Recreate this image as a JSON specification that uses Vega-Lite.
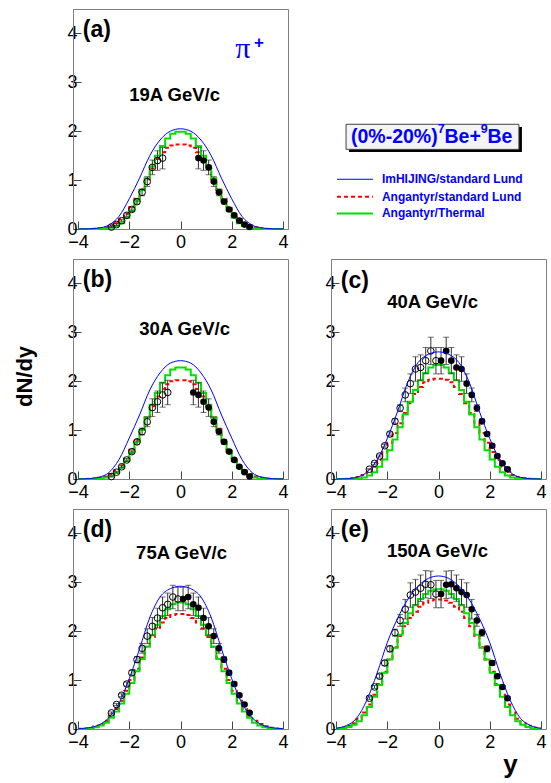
{
"$schema":"https://vega.github.io/schema/vega-lite/v6.json",
"padding":{"left":12,"top":8,"right":4,"bottom":4},
"background":"white",
"datasets":{
"green":[
{"x":-4,"a":0,"b":0,"c":0,"d":0,"e":0.006},
{"x":-3.8,"a":0,"b":0,"c":0,"d":0.006,"e":0.017},
{"x":-3.6,"a":0,"b":0.002,"c":0.002,"d":0.015,"e":0.04},
{"x":-3.4,"a":0.001,"b":0.005,"c":0.005,"d":0.035,"e":0.085},
{"x":-3.2,"a":0.004,"b":0.012,"c":0.013,"d":0.07,"e":0.16},
{"x":-3,"a":0.01,"b":0.03,"c":0.03,"d":0.13,"e":0.28},
{"x":-2.8,"a":0.025,"b":0.065,"c":0.07,"d":0.23,"e":0.45},
{"x":-2.6,"a":0.06,"b":0.13,"c":0.14,"d":0.36,"e":0.66},
{"x":-2.4,"a":0.12,"b":0.23,"c":0.25,"d":0.52,"e":0.9},
{"x":-2.2,"a":0.23,"b":0.37,"c":0.4,"d":0.72,"e":1.15},
{"x":-2,"a":0.38,"b":0.55,"c":0.59,"d":0.94,"e":1.42},
{"x":-1.8,"a":0.57,"b":0.76,"c":0.81,"d":1.18,"e":1.66},
{"x":-1.6,"a":0.8,"b":1,"c":1.06,"d":1.43,"e":1.93},
{"x":-1.4,"a":1.04,"b":1.26,"c":1.32,"d":1.68,"e":2.17},
{"x":-1.2,"a":1.28,"b":1.52,"c":1.58,"d":1.92,"e":2.37},
{"x":-1,"a":1.5,"b":1.76,"c":1.82,"d":2.13,"e":2.53},
{"x":-0.8,"a":1.7,"b":1.97,"c":2.02,"d":2.31,"e":2.66},
{"x":-0.6,"a":1.85,"b":2.12,"c":2.17,"d":2.45,"e":2.76},
{"x":-0.4,"a":1.95,"b":2.24,"c":2.28,"d":2.55,"e":2.83},
{"x":-0.2,"a":1.99,"b":2.28,"c":2.33,"d":2.59,"e":2.86},
{"x":0,"a":1.99,"b":2.28,"c":2.33,"d":2.59,"e":2.86},
{"x":0.2,"a":1.95,"b":2.24,"c":2.28,"d":2.55,"e":2.83},
{"x":0.4,"a":1.85,"b":2.12,"c":2.17,"d":2.45,"e":2.76},
{"x":0.6,"a":1.7,"b":1.97,"c":2.02,"d":2.31,"e":2.66},
{"x":0.8,"a":1.5,"b":1.76,"c":1.82,"d":2.13,"e":2.53},
{"x":1,"a":1.28,"b":1.52,"c":1.58,"d":1.92,"e":2.37},
{"x":1.2,"a":1.04,"b":1.26,"c":1.32,"d":1.68,"e":2.17},
{"x":1.4,"a":0.8,"b":1,"c":1.06,"d":1.43,"e":1.93},
{"x":1.6,"a":0.57,"b":0.76,"c":0.81,"d":1.18,"e":1.66},
{"x":1.8,"a":0.38,"b":0.55,"c":0.59,"d":0.94,"e":1.42},
{"x":2,"a":0.23,"b":0.37,"c":0.4,"d":0.72,"e":1.15},
{"x":2.2,"a":0.12,"b":0.23,"c":0.25,"d":0.52,"e":0.9},
{"x":2.4,"a":0.06,"b":0.13,"c":0.14,"d":0.36,"e":0.66},
{"x":2.6,"a":0.025,"b":0.065,"c":0.07,"d":0.23,"e":0.45},
{"x":2.8,"a":0.01,"b":0.03,"c":0.03,"d":0.13,"e":0.28},
{"x":3,"a":0.004,"b":0.012,"c":0.013,"d":0.07,"e":0.16},
{"x":3.2,"a":0.001,"b":0.005,"c":0.005,"d":0.035,"e":0.085},
{"x":3.4,"a":0,"b":0.002,"c":0.002,"d":0.015,"e":0.04},
{"x":3.6,"a":0,"b":0,"c":0,"d":0.006,"e":0.017},
{"x":3.8,"a":0,"b":0,"c":0,"d":0,"e":0.006},
{"x":4,"a":0,"b":0,"c":0,"d":0,"e":0.006}
],
"red":[
{"x":-4,"a":0,"b":0,"c":0,"d":0.004,"e":0.012},
{"x":-3.8,"a":0,"b":0.001,"c":0.002,"d":0.012,"e":0.03},
{"x":-3.6,"a":0.002,"b":0.004,"c":0.007,"d":0.028,"e":0.065},
{"x":-3.4,"a":0.006,"b":0.01,"c":0.018,"d":0.055,"e":0.12},
{"x":-3.2,"a":0.015,"b":0.025,"c":0.04,"d":0.1,"e":0.21},
{"x":-3,"a":0.035,"b":0.05,"c":0.08,"d":0.17,"e":0.34},
{"x":-2.8,"a":0.07,"b":0.1,"c":0.15,"d":0.27,"e":0.5},
{"x":-2.6,"a":0.12,"b":0.17,"c":0.25,"d":0.41,"e":0.7},
{"x":-2.4,"a":0.2,"b":0.28,"c":0.39,"d":0.58,"e":0.92},
{"x":-2.2,"a":0.31,"b":0.42,"c":0.55,"d":0.78,"e":1.17},
{"x":-2,"a":0.45,"b":0.6,"c":0.74,"d":1,"e":1.42},
{"x":-1.8,"a":0.62,"b":0.8,"c":0.94,"d":1.23,"e":1.67},
{"x":-1.6,"a":0.8,"b":1.02,"c":1.14,"d":1.46,"e":1.9},
{"x":-1.4,"a":1.02,"b":1.26,"c":1.35,"d":1.68,"e":2.1},
{"x":-1.2,"a":1.24,"b":1.49,"c":1.55,"d":1.88,"e":2.27},
{"x":-1,"a":1.43,"b":1.69,"c":1.74,"d":2.05,"e":2.4},
{"x":-0.8,"a":1.57,"b":1.84,"c":1.88,"d":2.18,"e":2.5},
{"x":-0.6,"a":1.66,"b":1.94,"c":1.98,"d":2.27,"e":2.58},
{"x":-0.4,"a":1.71,"b":2,"c":2.03,"d":2.33,"e":2.63},
{"x":-0.2,"a":1.73,"b":2.02,"c":2.05,"d":2.35,"e":2.65},
{"x":0,"a":1.73,"b":2.02,"c":2.05,"d":2.35,"e":2.65},
{"x":0.2,"a":1.71,"b":2,"c":2.03,"d":2.33,"e":2.63},
{"x":0.4,"a":1.66,"b":1.94,"c":1.98,"d":2.27,"e":2.58},
{"x":0.6,"a":1.57,"b":1.84,"c":1.88,"d":2.18,"e":2.5},
{"x":0.8,"a":1.43,"b":1.69,"c":1.74,"d":2.05,"e":2.4},
{"x":1,"a":1.24,"b":1.49,"c":1.55,"d":1.88,"e":2.27},
{"x":1.2,"a":1.02,"b":1.26,"c":1.35,"d":1.68,"e":2.1},
{"x":1.4,"a":0.8,"b":1.02,"c":1.14,"d":1.46,"e":1.9},
{"x":1.6,"a":0.62,"b":0.8,"c":0.94,"d":1.23,"e":1.67},
{"x":1.8,"a":0.45,"b":0.6,"c":0.74,"d":1,"e":1.42},
{"x":2,"a":0.31,"b":0.42,"c":0.55,"d":0.78,"e":1.17},
{"x":2.2,"a":0.2,"b":0.28,"c":0.39,"d":0.58,"e":0.92},
{"x":2.4,"a":0.12,"b":0.17,"c":0.25,"d":0.41,"e":0.7},
{"x":2.6,"a":0.07,"b":0.1,"c":0.15,"d":0.27,"e":0.5},
{"x":2.8,"a":0.035,"b":0.05,"c":0.08,"d":0.17,"e":0.34},
{"x":3,"a":0.015,"b":0.025,"c":0.04,"d":0.1,"e":0.21},
{"x":3.2,"a":0.006,"b":0.01,"c":0.018,"d":0.055,"e":0.12},
{"x":3.4,"a":0.002,"b":0.004,"c":0.007,"d":0.028,"e":0.065},
{"x":3.6,"a":0,"b":0.001,"c":0.002,"d":0.012,"e":0.03},
{"x":3.8,"a":0,"b":0,"c":0,"d":0.004,"e":0.012},
{"x":4,"a":0,"b":0,"c":0,"d":0.004,"e":0.012}
],
"blue":[
{"x":-4,"a":0,"b":0,"c":0,"d":0.005,"e":0.015},
{"x":-3.6,"a":0.004,"b":0.008,"c":0.005,"d":0.025,"e":0.07},
{"x":-3.2,"a":0.02,"b":0.035,"c":0.034,"d":0.08,"e":0.22},
{"x":-2.8,"a":0.08,"b":0.13,"c":0.14,"d":0.23,"e":0.59},
{"x":-2.4,"a":0.26,"b":0.4,"c":0.39,"d":0.53,"e":1.14},
{"x":-2,"a":0.62,"b":0.84,"c":0.83,"d":1.03,"e":1.77},
{"x":-1.6,"a":1.04,"b":1.31,"c":1.38,"d":1.64,"e":2.26},
{"x":-1.2,"a":1.5,"b":1.82,"c":1.98,"d":2.28,"e":2.65},
{"x":-0.8,"a":1.82,"b":2.17,"c":2.38,"d":2.7,"e":2.92},
{"x":-0.4,"a":2,"b":2.37,"c":2.55,"d":2.87,"e":3.08},
{"x":0,"a":2.05,"b":2.42,"c":2.6,"d":2.92,"e":3.13},
{"x":0.4,"a":2,"b":2.37,"c":2.55,"d":2.87,"e":3.08},
{"x":0.8,"a":1.82,"b":2.17,"c":2.38,"d":2.7,"e":2.92},
{"x":1.2,"a":1.5,"b":1.82,"c":1.98,"d":2.28,"e":2.65},
{"x":1.6,"a":1.04,"b":1.31,"c":1.38,"d":1.64,"e":2.26},
{"x":2,"a":0.62,"b":0.84,"c":0.83,"d":1.03,"e":1.77},
{"x":2.4,"a":0.26,"b":0.4,"c":0.39,"d":0.53,"e":1.14},
{"x":2.8,"a":0.08,"b":0.13,"c":0.14,"d":0.23,"e":0.59},
{"x":3.2,"a":0.02,"b":0.035,"c":0.034,"d":0.08,"e":0.22},
{"x":3.6,"a":0.004,"b":0.008,"c":0.005,"d":0.025,"e":0.07},
{"x":4,"a":0,"b":0,"c":0,"d":0.005,"e":0.015}
],
"pts":[
{"x":-2.7,"a":0.04,"ae":0.01,"b":0.05,"be":0.01,"c":0.2,"ce":0.01,"d":0.33,"de":0.02,"e":0.63,"ee":0.03},
{"x":-2.5,"a":0.09,"ae":0.02,"b":0.14,"be":0.02,"c":0.32,"ce":0.02,"d":0.5,"de":0.02,"e":0.86,"ee":0.03},
{"x":-2.3,"a":0.17,"ae":0.02,"b":0.25,"be":0.02,"c":0.47,"ce":0.02,"d":0.69,"de":0.03,"e":1.08,"ee":0.04},
{"x":-2.1,"a":0.28,"ae":0.03,"b":0.39,"be":0.03,"c":0.68,"ce":0.03,"d":0.92,"de":0.04,"e":1.35,"ee":0.05},
{"x":-1.9,"a":0.4,"ae":0.04,"b":0.56,"be":0.04,"c":0.92,"ce":0.04,"d":1.15,"de":0.05,"e":1.64,"ee":0.06},
{"x":-1.7,"a":0.56,"ae":0.05,"b":0.76,"be":0.05,"c":1.18,"ce":0.05,"d":1.42,"de":0.06,"e":1.97,"ee":0.07},
{"x":-1.5,"a":0.75,"ae":0.07,"b":0.97,"be":0.07,"c":1.45,"ce":0.07,"d":1.65,"de":0.1,"e":2.22,"ee":0.12},
{"x":-1.3,"a":0.97,"ae":0.1,"b":1.17,"be":0.1,"c":1.72,"ce":0.14,"d":1.9,"de":0.15,"e":2.45,"ee":0.2},
{"x":-1.1,"a":1.26,"ae":0.15,"b":1.46,"be":0.18,"c":1.95,"ce":0.2,"d":2.1,"de":0.18,"e":2.74,"ee":0.25},
{"x":-0.9,"a":1.4,"ae":0.2,"b":1.58,"be":0.22,"c":2.25,"ce":0.25,"d":2.27,"de":0.2,"e":2.8,"ee":0.26},
{"x":-0.7,"a":1.45,"ae":0.22,"b":1.72,"be":0.25,"c":2.28,"ce":0.26,"d":2.48,"de":0.22,"e":2.88,"ee":0.27},
{"x":-0.5,"a":null,"ae":null,"b":1.77,"be":0.25,"c":2.42,"ce":0.27,"d":2.55,"de":0.23,"e":2.96,"ee":0.28},
{"x":-0.3,"a":null,"ae":null,"b":null,"be":null,"c":2.62,"ce":0.28,"d":2.7,"de":0.24,"e":2.95,"ee":0.28},
{"x":-0.1,"a":null,"ae":null,"b":null,"be":null,"c":2.42,"ce":0.27,"d":2.66,"de":0.24,"e":2.76,"ee":0.28},
{"x":0.1,"a":null,"ae":null,"b":null,"be":null,"c":2.42,"ce":0.27,"d":2.66,"de":0.24,"e":2.76,"ee":0.28},
{"x":0.3,"a":null,"ae":null,"b":null,"be":null,"c":2.62,"ce":0.28,"d":2.7,"de":0.24,"e":2.95,"ee":0.28},
{"x":0.5,"a":null,"ae":null,"b":1.77,"be":0.25,"c":2.42,"ce":0.27,"d":2.55,"de":0.23,"e":2.96,"ee":0.28},
{"x":0.7,"a":1.45,"ae":0.22,"b":1.72,"be":0.25,"c":2.28,"ce":0.26,"d":2.48,"de":0.22,"e":2.88,"ee":0.27},
{"x":0.9,"a":1.4,"ae":0.2,"b":1.58,"be":0.22,"c":2.25,"ce":0.25,"d":2.27,"de":0.2,"e":2.8,"ee":0.26},
{"x":1.1,"a":1.26,"ae":0.15,"b":1.46,"be":0.18,"c":1.95,"ce":0.2,"d":2.1,"de":0.18,"e":2.74,"ee":0.25},
{"x":1.3,"a":0.97,"ae":0.1,"b":1.17,"be":0.1,"c":1.72,"ce":0.14,"d":1.9,"de":0.15,"e":2.45,"ee":0.2},
{"x":1.5,"a":0.75,"ae":0.07,"b":0.97,"be":0.07,"c":1.45,"ce":0.07,"d":1.65,"de":0.1,"e":2.22,"ee":0.12},
{"x":1.7,"a":0.56,"ae":0.05,"b":0.76,"be":0.05,"c":1.18,"ce":0.05,"d":1.42,"de":0.06,"e":1.97,"ee":0.07},
{"x":1.9,"a":0.4,"ae":0.04,"b":0.56,"be":0.04,"c":0.92,"ce":0.04,"d":1.15,"de":0.05,"e":1.64,"ee":0.06},
{"x":2.1,"a":0.28,"ae":0.03,"b":0.39,"be":0.03,"c":0.68,"ce":0.03,"d":0.92,"de":0.04,"e":1.35,"ee":0.05},
{"x":2.3,"a":0.17,"ae":0.02,"b":0.25,"be":0.02,"c":0.47,"ce":0.02,"d":0.69,"de":0.03,"e":1.08,"ee":0.04},
{"x":2.5,"a":0.09,"ae":0.02,"b":0.14,"be":0.02,"c":0.32,"ce":0.02,"d":0.5,"de":0.02,"e":0.86,"ee":0.03},
{"x":2.7,"a":0.04,"ae":0.01,"b":0.05,"be":0.01,"c":0.2,"ce":0.01,"d":0.33,"de":0.02,"e":0.63,"ee":0.03}
]
},
"columns":2,
"spacing":{"row":30,"column":43},
"bounds":"flush",
"concat":[
{"width":215,"height":220,
"layer":[
{"encoding":{
"x":{"field":"x","type":"quantitative","scale":{"domain":[-4.2,4.2],"nice":false,"zero":false},"axis":{"values":[-4,-3.5,-3,-2.5,-2,-1.5,-1,-0.5,0,0.5,1,1.5,2,2.5,3,3.5,4],"format":".0f","labelExpr":"datum.value % 2 === 0 ? datum.label : ''","labelOverlap":false,"tickSize":{"condition":{"test":"datum.value % 2 === 0","value":-8},"value":-5},"labelPadding":12,"title":null}},
"y":{"field":"a","type":"quantitative","scale":{"domain":[0,4.5],"nice":false,"zero":false},"axis":{"values":[0,1,2,3,4],"format":".0f","labelOverlap":false,"tickSize":-8,"labelPadding":4,"title":null}}},
"layer":[
{"data":{"name":"red"},"mark":{"type":"line","interpolate":"step-after","color":"#ff0000","strokeWidth":2,"strokeDash":[4,3]}},
{"data":{"name":"green"},"mark":{"type":"line","interpolate":"step-after","color":"#00e000","strokeWidth":2}},
{"data":{"name":"pts"},"transform":[{"filter":"isValid(datum.a)"}],"mark":{"type":"errorbar","ticks":{"size":6,"thickness":1,"color":"#333"},"rule":{"color":"#333","strokeWidth":1}},"encoding":{"yError":{"field":"ae"}}},
{"data":{"name":"pts"},"transform":[{"filter":"isValid(datum.a) && datum.x < 0"}],"mark":{"type":"point","shape":"circle","filled":false,"color":"black","strokeWidth":1,"size":44,"opacity":1}},
{"data":{"name":"pts"},"transform":[{"filter":"isValid(datum.a) && datum.x > 0"}],"mark":{"type":"point","shape":"circle","filled":true,"color":"black","size":44,"opacity":1}},
{"data":{"name":"blue"},"mark":{"type":"line","interpolate":"monotone","color":"#0000ff","strokeWidth":1}}
]},
{"data":{"values":[{}]},"mark":{"type":"text","align":"left","baseline":"middle","fontSize":23,"fontWeight":"bold","color":"black"},"encoding":{"x":{"datum":-3.82},"y":{"datum":4.08},"text":{"value":"(a)"}}},
{"data":{"values":[{}]},"mark":{"type":"text","align":"center","baseline":"middle","fontSize":18.5,"fontWeight":"bold","color":"black"},"encoding":{"x":{"datum":-0.23},"y":{"datum":2.74},"text":{"value":"19A GeV/c"}}},
{"data":{"values":[{}]},"mark":{"type":"text","align":"center","baseline":"alphabetic","fontSize":30,"font":"Liberation Serif","color":"#0000ff"},"encoding":{"x":{"datum":2.44},"y":{"datum":3.5},"text":{"value":"π"}}},
{"data":{"values":[{}]},"mark":{"type":"text","align":"center","baseline":"alphabetic","fontSize":17,"fontWeight":"bold","color":"#0000ff"},"encoding":{"x":{"datum":3.07},"y":{"datum":3.71},"text":{"value":"+"}}}
]},
{"width":215,"height":220,"view":{"stroke":null},
"data":{"values":[{}]},
"layer":[
{"mark":{"type":"rect","color":"black"},"encoding":{"x":{"datum":0.084,"type":"quantitative","scale":{"domain":[0,1],"nice":false,"zero":false},"axis":null},"x2":{"datum":0.888},"y":{"datum":0.464,"type":"quantitative","scale":{"domain":[0,1],"nice":false,"zero":false},"axis":null},"y2":{"datum":0.35}}},
{"mark":{"type":"rect","fill":"#f4f4f4","stroke":"#444","strokeWidth":1},"encoding":{"x":{"datum":0.07,"type":"quantitative","scale":{"domain":[0,1],"nice":false,"zero":false},"axis":null},"x2":{"datum":0.874},"y":{"datum":0.476,"type":"quantitative","scale":{"domain":[0,1],"nice":false,"zero":false},"axis":null},"y2":{"datum":0.362}}},
{"mark":{"type":"text","align":"left","baseline":"alphabetic","fontSize":19.5,"fontWeight":"bold","color":"#0000ff"},"encoding":{"x":{"datum":0.093,"type":"quantitative","scale":{"domain":[0,1],"nice":false,"zero":false},"axis":null},"y":{"datum":0.3895,"type":"quantitative","scale":{"domain":[0,1],"nice":false,"zero":false},"axis":null},"text":{"value":"(0%-20%)"}}},
{"mark":{"type":"text","align":"left","baseline":"alphabetic","fontSize":12.5,"fontWeight":"bold","color":"#0000ff"},"encoding":{"x":{"datum":0.496,"type":"quantitative","scale":{"domain":[0,1],"nice":false,"zero":false},"axis":null},"y":{"datum":0.436,"type":"quantitative","scale":{"domain":[0,1],"nice":false,"zero":false},"axis":null},"text":{"value":"7"}}},
{"mark":{"type":"text","align":"left","baseline":"alphabetic","fontSize":19.5,"fontWeight":"bold","color":"#0000ff"},"encoding":{"x":{"datum":0.528,"type":"quantitative","scale":{"domain":[0,1],"nice":false,"zero":false},"axis":null},"y":{"datum":0.3895,"type":"quantitative","scale":{"domain":[0,1],"nice":false,"zero":false},"axis":null},"text":{"value":"Be+"}}},
{"mark":{"type":"text","align":"left","baseline":"alphabetic","fontSize":12.5,"fontWeight":"bold","color":"#0000ff"},"encoding":{"x":{"datum":0.697,"type":"quantitative","scale":{"domain":[0,1],"nice":false,"zero":false},"axis":null},"y":{"datum":0.436,"type":"quantitative","scale":{"domain":[0,1],"nice":false,"zero":false},"axis":null},"text":{"value":"9"}}},
{"mark":{"type":"text","align":"left","baseline":"alphabetic","fontSize":19.5,"fontWeight":"bold","color":"#0000ff"},"encoding":{"x":{"datum":0.728,"type":"quantitative","scale":{"domain":[0,1],"nice":false,"zero":false},"axis":null},"y":{"datum":0.3895,"type":"quantitative","scale":{"domain":[0,1],"nice":false,"zero":false},"axis":null},"text":{"value":"Be"}}},
{"mark":{"type":"rule","color":"#0000ff","strokeWidth":1},"encoding":{"x":{"datum":0.028,"type":"quantitative","scale":{"domain":[0,1],"nice":false,"zero":false},"axis":null},"x2":{"datum":0.195},"y":{"datum":0.226,"type":"quantitative","scale":{"domain":[0,1],"nice":false,"zero":false},"axis":null}}},
{"mark":{"type":"rule","color":"#ff0000","strokeWidth":2,"strokeDash":[4,3]},"encoding":{"x":{"datum":0.028,"type":"quantitative","scale":{"domain":[0,1],"nice":false,"zero":false},"axis":null},"x2":{"datum":0.195},"y":{"datum":0.147,"type":"quantitative","scale":{"domain":[0,1],"nice":false,"zero":false},"axis":null}}},
{"mark":{"type":"rule","color":"#00e000","strokeWidth":2},"encoding":{"x":{"datum":0.028,"type":"quantitative","scale":{"domain":[0,1],"nice":false,"zero":false},"axis":null},"x2":{"datum":0.195},"y":{"datum":0.071,"type":"quantitative","scale":{"domain":[0,1],"nice":false,"zero":false},"axis":null}}},
{"mark":{"type":"text","align":"left","baseline":"middle","fontSize":12,"fontWeight":"bold","color":"#0000ff"},"encoding":{"x":{"datum":0.237,"type":"quantitative","scale":{"domain":[0,1],"nice":false,"zero":false},"axis":null},"y":{"datum":0.226,"type":"quantitative","scale":{"domain":[0,1],"nice":false,"zero":false},"axis":null},"text":{"value":"ImHIJING/standard Lund"}}},
{"mark":{"type":"text","align":"left","baseline":"middle","fontSize":12,"fontWeight":"bold","color":"#0000ff"},"encoding":{"x":{"datum":0.237,"type":"quantitative","scale":{"domain":[0,1],"nice":false,"zero":false},"axis":null},"y":{"datum":0.147,"type":"quantitative","scale":{"domain":[0,1],"nice":false,"zero":false},"axis":null},"text":{"value":"Angantyr/standard Lund"}}},
{"mark":{"type":"text","align":"left","baseline":"middle","fontSize":12,"fontWeight":"bold","color":"#0000ff"},"encoding":{"x":{"datum":0.237,"type":"quantitative","scale":{"domain":[0,1],"nice":false,"zero":false},"axis":null},"y":{"datum":0.071,"type":"quantitative","scale":{"domain":[0,1],"nice":false,"zero":false},"axis":null},"text":{"value":"Angantyr/Thermal"}}}
]},
{"width":215,"height":220,
"layer":[
{"encoding":{
"x":{"field":"x","type":"quantitative","scale":{"domain":[-4.2,4.2],"nice":false,"zero":false},"axis":{"values":[-4,-3.5,-3,-2.5,-2,-1.5,-1,-0.5,0,0.5,1,1.5,2,2.5,3,3.5,4],"format":".0f","labelExpr":"datum.value % 2 === 0 ? datum.label : ''","labelOverlap":false,"tickSize":{"condition":{"test":"datum.value % 2 === 0","value":-8},"value":-5},"labelPadding":12,"title":null}},
"y":{"field":"b","type":"quantitative","scale":{"domain":[0,4.5],"nice":false,"zero":false},"axis":{"values":[0,1,2,3,4],"format":".0f","labelOverlap":false,"tickSize":-8,"labelPadding":4,"title":"dN/dy","titleFontSize":22,"titleFontWeight":"bold","titleColor":"black","titleAngle":-90,"titleX":-49,"titleY":117,"titleAlign":"center","titleBaseline":"middle"}}},
"layer":[
{"data":{"name":"red"},"mark":{"type":"line","interpolate":"step-after","color":"#ff0000","strokeWidth":2,"strokeDash":[4,3]}},
{"data":{"name":"green"},"mark":{"type":"line","interpolate":"step-after","color":"#00e000","strokeWidth":2}},
{"data":{"name":"pts"},"transform":[{"filter":"isValid(datum.b)"}],"mark":{"type":"errorbar","ticks":{"size":6,"thickness":1,"color":"#333"},"rule":{"color":"#333","strokeWidth":1}},"encoding":{"yError":{"field":"be"}}},
{"data":{"name":"pts"},"transform":[{"filter":"isValid(datum.b) && datum.x < 0"}],"mark":{"type":"point","shape":"circle","filled":false,"color":"black","strokeWidth":1,"size":44,"opacity":1}},
{"data":{"name":"pts"},"transform":[{"filter":"isValid(datum.b) && datum.x > 0"}],"mark":{"type":"point","shape":"circle","filled":true,"color":"black","size":44,"opacity":1}},
{"data":{"name":"blue"},"mark":{"type":"line","interpolate":"monotone","color":"#0000ff","strokeWidth":1}}
]},
{"data":{"values":[{}]},"mark":{"type":"text","align":"left","baseline":"middle","fontSize":23,"fontWeight":"bold","color":"black"},"encoding":{"x":{"datum":-3.82},"y":{"datum":4.07},"text":{"value":"(b)"}}},
{"data":{"values":[{}]},"mark":{"type":"text","align":"center","baseline":"middle","fontSize":18.5,"fontWeight":"bold","color":"black"},"encoding":{"x":{"datum":0.16},"y":{"datum":3.07},"text":{"value":"30A GeV/c"}}}
]},
{"width":215,"height":220,
"layer":[
{"encoding":{
"x":{"field":"x","type":"quantitative","scale":{"domain":[-4.2,4.2],"nice":false,"zero":false},"axis":{"values":[-4,-3.5,-3,-2.5,-2,-1.5,-1,-0.5,0,0.5,1,1.5,2,2.5,3,3.5,4],"format":".0f","labelExpr":"datum.value % 2 === 0 ? datum.label : ''","labelOverlap":false,"tickSize":{"condition":{"test":"datum.value % 2 === 0","value":-8},"value":-5},"labelPadding":12,"title":null}},
"y":{"field":"c","type":"quantitative","scale":{"domain":[0,4.5],"nice":false,"zero":false},"axis":{"values":[0,1,2,3,4],"format":".0f","labelOverlap":false,"tickSize":-8,"labelPadding":4,"title":null}}},
"layer":[
{"data":{"name":"red"},"mark":{"type":"line","interpolate":"step-after","color":"#ff0000","strokeWidth":2,"strokeDash":[4,3]}},
{"data":{"name":"green"},"mark":{"type":"line","interpolate":"step-after","color":"#00e000","strokeWidth":2}},
{"data":{"name":"pts"},"transform":[{"filter":"isValid(datum.c)"}],"mark":{"type":"errorbar","ticks":{"size":6,"thickness":1,"color":"#333"},"rule":{"color":"#333","strokeWidth":1}},"encoding":{"yError":{"field":"ce"}}},
{"data":{"name":"pts"},"transform":[{"filter":"isValid(datum.c) && datum.x < 0"}],"mark":{"type":"point","shape":"circle","filled":false,"color":"black","strokeWidth":1,"size":44,"opacity":1}},
{"data":{"name":"pts"},"transform":[{"filter":"isValid(datum.c) && datum.x > 0"}],"mark":{"type":"point","shape":"circle","filled":true,"color":"black","size":44,"opacity":1}},
{"data":{"name":"blue"},"mark":{"type":"line","interpolate":"monotone","color":"#0000ff","strokeWidth":1}}
]},
{"data":{"values":[{}]},"mark":{"type":"text","align":"left","baseline":"middle","fontSize":23,"fontWeight":"bold","color":"black"},"encoding":{"x":{"datum":-3.82},"y":{"datum":4.05},"text":{"value":"(c)"}}},
{"data":{"values":[{}]},"mark":{"type":"text","align":"center","baseline":"middle","fontSize":18.5,"fontWeight":"bold","color":"black"},"encoding":{"x":{"datum":-0.23},"y":{"datum":3.62},"text":{"value":"40A GeV/c"}}}
]},
{"width":215,"height":220,
"layer":[
{"encoding":{
"x":{"field":"x","type":"quantitative","scale":{"domain":[-4.2,4.2],"nice":false,"zero":false},"axis":{"values":[-4,-3.5,-3,-2.5,-2,-1.5,-1,-0.5,0,0.5,1,1.5,2,2.5,3,3.5,4],"format":".0f","labelExpr":"datum.value % 2 === 0 ? datum.label : ''","labelOverlap":false,"tickSize":{"condition":{"test":"datum.value % 2 === 0","value":-8},"value":-5},"labelPadding":12,"title":null}},
"y":{"field":"d","type":"quantitative","scale":{"domain":[0,4.5],"nice":false,"zero":false},"axis":{"values":[0,1,2,3,4],"format":".0f","labelOverlap":false,"tickSize":-8,"labelPadding":4,"title":null}}},
"layer":[
{"data":{"name":"red"},"mark":{"type":"line","interpolate":"step-after","color":"#ff0000","strokeWidth":2,"strokeDash":[4,3]}},
{"data":{"name":"green"},"mark":{"type":"line","interpolate":"step-after","color":"#00e000","strokeWidth":2}},
{"data":{"name":"pts"},"transform":[{"filter":"isValid(datum.d)"}],"mark":{"type":"errorbar","ticks":{"size":6,"thickness":1,"color":"#333"},"rule":{"color":"#333","strokeWidth":1}},"encoding":{"yError":{"field":"de"}}},
{"data":{"name":"pts"},"transform":[{"filter":"isValid(datum.d) && datum.x < 0"}],"mark":{"type":"point","shape":"circle","filled":false,"color":"black","strokeWidth":1,"size":44,"opacity":1}},
{"data":{"name":"pts"},"transform":[{"filter":"isValid(datum.d) && datum.x > 0"}],"mark":{"type":"point","shape":"circle","filled":true,"color":"black","size":44,"opacity":1}},
{"data":{"name":"blue"},"mark":{"type":"line","interpolate":"monotone","color":"#0000ff","strokeWidth":1}}
]},
{"data":{"values":[{}]},"mark":{"type":"text","align":"left","baseline":"middle","fontSize":23,"fontWeight":"bold","color":"black"},"encoding":{"x":{"datum":-3.82},"y":{"datum":4.07},"text":{"value":"(d)"}}},
{"data":{"values":[{}]},"mark":{"type":"text","align":"center","baseline":"middle","fontSize":18.5,"fontWeight":"bold","color":"black"},"encoding":{"x":{"datum":0.04},"y":{"datum":3.6},"text":{"value":"75A GeV/c"}}}
]},
{"width":215,"height":220,
"layer":[
{"encoding":{
"x":{"field":"x","type":"quantitative","scale":{"domain":[-4.2,4.2],"nice":false,"zero":false},"axis":{"values":[-4,-3.5,-3,-2.5,-2,-1.5,-1,-0.5,0,0.5,1,1.5,2,2.5,3,3.5,4],"format":".0f","labelExpr":"datum.value % 2 === 0 ? datum.label : ''","labelOverlap":false,"tickSize":{"condition":{"test":"datum.value % 2 === 0","value":-8},"value":-5},"labelPadding":12,"title":"y","titleFontSize":26,"titleFontWeight":"bold","titleColor":"black","titleX":179,"titleY":43.5,"titleAlign":"center","titleBaseline":"alphabetic"}},
"y":{"field":"e","type":"quantitative","scale":{"domain":[0,4.5],"nice":false,"zero":false},"axis":{"values":[0,1,2,3,4],"format":".0f","labelOverlap":false,"tickSize":-8,"labelPadding":4,"title":null}}},
"layer":[
{"data":{"name":"red"},"mark":{"type":"line","interpolate":"step-after","color":"#ff0000","strokeWidth":2,"strokeDash":[4,3]}},
{"data":{"name":"green"},"mark":{"type":"line","interpolate":"step-after","color":"#00e000","strokeWidth":2}},
{"data":{"name":"pts"},"transform":[{"filter":"isValid(datum.e)"}],"mark":{"type":"errorbar","ticks":{"size":6,"thickness":1,"color":"#333"},"rule":{"color":"#333","strokeWidth":1}},"encoding":{"yError":{"field":"ee"}}},
{"data":{"name":"pts"},"transform":[{"filter":"isValid(datum.e) && datum.x < 0"}],"mark":{"type":"point","shape":"circle","filled":false,"color":"black","strokeWidth":1,"size":44,"opacity":1}},
{"data":{"name":"pts"},"transform":[{"filter":"isValid(datum.e) && datum.x > 0"}],"mark":{"type":"point","shape":"circle","filled":true,"color":"black","size":44,"opacity":1}},
{"data":{"name":"blue"},"mark":{"type":"line","interpolate":"monotone","color":"#0000ff","strokeWidth":1}}
]},
{"data":{"values":[{}]},"mark":{"type":"text","align":"left","baseline":"middle","fontSize":23,"fontWeight":"bold","color":"black"},"encoding":{"x":{"datum":-3.82},"y":{"datum":4.07},"text":{"value":"(e)"}}},
{"data":{"values":[{}]},"mark":{"type":"text","align":"center","baseline":"middle","fontSize":18.5,"fontWeight":"bold","color":"black"},"encoding":{"x":{"datum":-0.04},"y":{"datum":3.64},"text":{"value":"150A GeV/c"}}}
]}
],
"config":{
"font":"Liberation Sans",
"view":{"stroke":"#808080","strokeWidth":1},
"axis":{"domainColor":"#808080","domainWidth":1,"tickColor":"#444","tickWidth":1,"labelFont":"Liberation Sans","labelFontSize":18,"labelColor":"#000","grid":false,"labelFlush":false,"labelOverlap":false,"labelBound":false,"titleFont":"Liberation Sans"}
}
}
